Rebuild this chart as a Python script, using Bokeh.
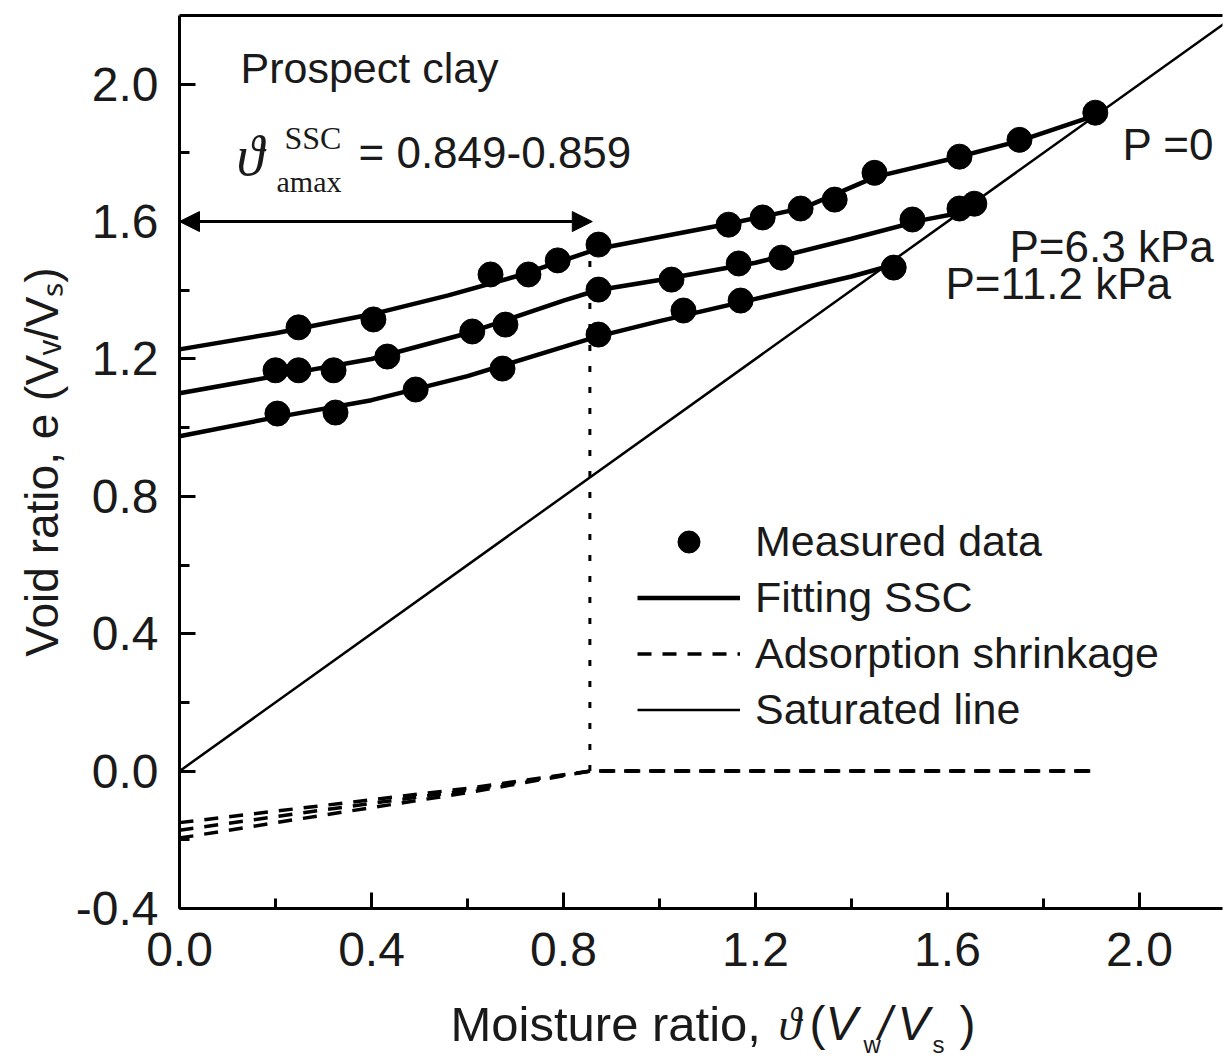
import numpy as np
from bokeh.plotting import figure
from bokeh.layouts import column
from bokeh.models import (Range1d, FixedTicker, Arrow, NormalHead, Legend, LegendItem, LinearAxis)
from bokeh.core.properties import value
from bokeh.embed import file_html
from bokeh.resources import INLINE

# ---------------- data ----------------
theta_p0 = [0.248, 0.404, 0.648, 0.727, 0.788, 0.873, 1.144, 1.215, 1.294, 1.365, 1.448, 1.625, 1.750, 1.908]
e_p0 = [1.292, 1.315, 1.446, 1.446, 1.487, 1.533, 1.591, 1.612, 1.638, 1.664, 1.742, 1.789, 1.838, 1.917]

theta_p63 = [0.200, 0.248, 0.321, 0.433, 0.610, 0.679, 0.873, 1.025, 1.165, 1.254, 1.527, 1.625, 1.656]
e_p63 = [1.167, 1.167, 1.167, 1.207, 1.280, 1.300, 1.402, 1.431, 1.478, 1.495, 1.606, 1.638, 1.652]

theta_p112 = [0.204, 0.325, 0.492, 0.673, 0.873, 1.050, 1.169, 1.488]
e_p112 = [1.041, 1.044, 1.111, 1.172, 1.271, 1.341, 1.370, 1.466]

fit_theta_p0 = [0.0, 0.2, 0.4, 0.56, 0.7, 0.87, 1.0, 1.15, 1.3, 1.45, 1.6, 1.75, 1.91]
fit_e_p0 = [1.228, 1.275, 1.330, 1.385, 1.440, 1.520, 1.555, 1.595, 1.640, 1.730, 1.780, 1.835, 1.910]

fit_theta_p63 = [0.0, 0.2, 0.4, 0.6, 0.8, 0.87, 1.0, 1.2, 1.4, 1.55, 1.625]
fit_e_p63 = [1.100, 1.150, 1.200, 1.275, 1.370, 1.400, 1.430, 1.480, 1.550, 1.605, 1.625]

fit_theta_p112 = [0.0, 0.2, 0.4, 0.6, 0.8, 0.87, 1.0, 1.2, 1.4, 1.49]
fit_e_p112 = [0.975, 1.030, 1.080, 1.150, 1.235, 1.265, 1.310, 1.375, 1.440, 1.475]

ads_theta = [0.0, 0.3, 0.6, 0.855, 1.9]
ads_e_p0 = [-0.150, -0.100, -0.050, 0.0, 0.0]
ads_e_p63 = [-0.172, -0.113, -0.056, 0.0, 0.0]
ads_e_p112 = [-0.195, -0.128, -0.063, 0.0, 0.0]

sat_theta = [0.0, 2.2]
sat_e = [0.0, 2.2]

theta_amax = 0.855
e_amax_top = 1.53
arrow_e = 1.6

x_ticks = [0.0, 0.4, 0.8, 1.2, 1.6, 2.0]
x_minor = [0.2, 0.6, 1.0, 1.4, 1.8]
y_ticks = [-0.4, 0.0, 0.4, 0.8, 1.2, 1.6, 2.0]
y_minor = [-0.2, 0.2, 0.6, 1.0, 1.4, 1.8]

legend_labels = ["Measured data", "Fitting SSC", "Adsorption shrinkage", "Saturated line"]
y_title = "Void ratio, e (V\u1d65/V\u209b)"

# ---------------- layout (page pixels) ----------------
TOTAL_W, TOTAL_H = 1224, 1058
PW = TOTAL_W
BL, BR, BT, BB = 179, 2, 15, 82
FRAME_H = 893
PH = BT + FRAME_H + BB       # 990
BH = TOTAL_H - PH            # bottom strip for the x title
X0, X1 = 0.0, 2.173
Y0, Y1 = -0.4, 2.2
fx0 = BL
fx1 = PW - BR
fy0 = BT
fy1 = BT + FRAME_H
sx = (fx1 - fx0) / (X1 - X0)
sy = (fy1 - fy0) / (Y1 - Y0)


def px(xp):
    return X0 + (xp - fx0) / sx


def py(yp):
    return Y0 + (fy1 - yp) / sy


SANS = "Liberation Sans"
SERIF = "Liberation Serif"
INK = "#1a1a1a"
# text boxes are centred on their anchor: baseline sits this fraction of the size below it
BASE_SANS = 0.3465
BASE_SERIF = 0.34

p = figure(width=PW, height=PH, x_range=Range1d(X0, X1), y_range=Range1d(Y0, Y1),
           output_backend="svg", toolbar_location=None, title=None,
           min_border_left=BL, min_border_right=BR, min_border_top=BT, min_border_bottom=BB)
p.background_fill_color = "white"
p.border_fill_color = "white"
p.outline_line_color = None
p.grid.visible = False

for ax, maj, mnr in ((p.xaxis[0], x_ticks, x_minor), (p.yaxis[0], y_ticks, y_minor)):
    ax.ticker = FixedTicker(ticks=maj, minor_ticks=mnr)
    ax.axis_line_width = 3
    ax.major_tick_line_width = 3
    ax.minor_tick_line_width = 3
    ax.major_tick_in = 16
    ax.major_tick_out = 0
    ax.minor_tick_in = 10
    ax.minor_tick_out = 0
    ax.major_label_text_font = SANS
    ax.major_label_text_font_size = "48px"
    ax.major_label_text_color = INK
p.xaxis[0].axis_label = None
p.xaxis[0].major_label_standoff = 24
p.yaxis[0].major_label_standoff = 21
p.xaxis[0].major_label_overrides = {t: f"{t:.1f}" for t in x_ticks}
p.yaxis[0].major_label_overrides = {t: f"{t:.1f}" for t in y_ticks}
p.yaxis[0].axis_label = y_title
p.yaxis[0].axis_label_text_font = SANS
p.yaxis[0].axis_label_text_font_size = "46px"
p.yaxis[0].axis_label_text_font_style = "normal"
p.yaxis[0].axis_label_text_color = INK
p.yaxis[0].axis_label_standoff = 5

# top frame line (the right edge of the reference is cut off)
top_axis = LinearAxis(ticker=FixedTicker(ticks=[]), axis_line_width=3,
                      major_tick_in=0, major_tick_out=0, minor_tick_in=0, minor_tick_out=0,
                      major_label_text_alpha=0, major_label_text_font_size="1px")
p.add_layout(top_axis, "above")

# saturated line
r_sat = p.line(sat_theta, sat_e, line_color="black", line_width=2.5)

# adsorption shrinkage
r_ads = None
for ee in (ads_e_p0, ads_e_p63, ads_e_p112):
    r = p.line(ads_theta, ee, line_color="black", line_width=3.5, line_dash="14 11")
    r_ads = r_ads or r

# fitting SSC
r_fit = None
for tt, ee in ((fit_theta_p0, fit_e_p0), (fit_theta_p63, fit_e_p63), (fit_theta_p112, fit_e_p112)):
    r = p.line(tt, ee, line_color="black", line_width=4.5)
    r_fit = r_fit or r

# measured data
r_pts = None
for tt, ee in ((theta_p0, e_p0), (theta_p63, e_p63), (theta_p112, e_p112)):
    r = p.scatter(tt, ee, size=25, marker="circle", fill_color="black", line_color="black")
    r_pts = r_pts or r

# dotted vertical at theta_amax
p.line([theta_amax, theta_amax], [0.0, e_amax_top], line_color="black", line_width=3, line_dash="6 15")

# double arrow
p.add_layout(Arrow(x_start=0.0, y_start=arrow_e, x_end=theta_amax + 0.005, y_end=arrow_e,
                   line_width=3, line_color="black",
                   start=NormalHead(size=20, fill_color="black", line_color="black"),
                   end=NormalHead(size=20, fill_color="black", line_color="black")))

# legend
legend = Legend(items=[LegendItem(label=legend_labels[0], renderers=[r_pts]),
                       LegendItem(label=legend_labels[1], renderers=[r_fit]),
                       LegendItem(label=legend_labels[2], renderers=[r_ads]),
                       LegendItem(label=legend_labels[3], renderers=[r_sat])],
                location=(458, 171), padding=0, margin=0, spacing=1,
                glyph_width=103, glyph_height=55, label_height=40, label_standoff=15,
                label_text_font=SANS, label_text_font_size="43px", label_text_color=INK,
                border_line_alpha=0, background_fill_alpha=0)
p.add_layout(legend)


def txt(fig, xs, ys, text, size, font=SANS, style="normal"):
    fig.text(x=[xs], y=[ys], text=[text], text_font=value(font), text_font_size=value(f"{size}px"),
             text_font_style=style, text_baseline="alphabetic", text_align="left",
             text_color=INK)


def ann(xp, base_yp, text, size, font=SANS, style="normal"):
    k = BASE_SERIF if font == SERIF else BASE_SANS
    txt(p, px(xp), py(base_yp - k * size), text, size, font, style)


# in-plot annotations (page px of the reference; baselines)
ann(240, 82, "Prospect clay", 43)
ann(236, 175, "\u03d1", 56, font=SERIF, style="italic")
ann(284, 148, "SSC", 32, font=SERIF)
ann(276, 191, "amax", 30, font=SERIF)
ann(358, 167, "= 0.849-0.859", 44)
ann(1122, 159, "P =0", 44)
ann(1009, 261, "P=6.3 kPa", 44)
ann(945, 298, "P=11.2 kPa", 44)

# ---------------- bottom strip: x title (same horizontal frame as the main plot) ----------------
pb = figure(width=PW, height=BH, x_range=Range1d(X0, X1), y_range=Range1d(0, BH),
            output_backend="svg", toolbar_location=None, title=None,
            x_axis_location=None, y_axis_location=None,
            min_border_left=BL, min_border_right=BR, min_border_top=0, min_border_bottom=0)
pb.outline_line_color = None
pb.grid.visible = False
pb.background_fill_alpha = 0


def xt(xp, base_yp, text, size, font=SANS, style="normal"):
    k = BASE_SERIF if font == SERIF else BASE_SANS
    txt(pb, px(xp), TOTAL_H - (base_yp - k * size), text, size, font, style)


xt(450, 1040, "Moisture ratio,", 49)
xt(778, 1040, "\u03d1", 46, font=SERIF, style="italic")
xt(809, 1040, "(", 48)
xt(825, 1040, "V", 48, style="italic")
xt(863, 1052, "w", 24)
xt(878, 1040, "/", 48, style="italic")
xt(897, 1040, "V", 48, style="italic")
xt(932, 1052, "s", 24)
xt(959, 1040, ")", 48)

layout = column(p, pb)
open("out.html", "w").write(file_html(layout, INLINE))
